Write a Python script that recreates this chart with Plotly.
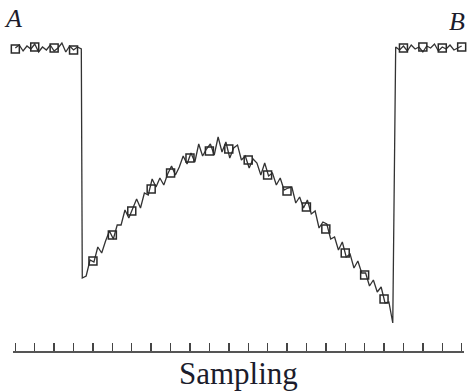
import plotly.graph_objects as go

# Sampling index grid (tick marks at every integer sample 0..23)
tick_vals = list(range(0, 24))

# Left plateau (point A), samples t = 0.0 .. 3.4 step 0.2
left_t0, left_dt = 0.0, 0.2
left_y = [303, 306, 300, 305, 302, 307, 299, 304, 301, 306, 300, 303, 308, 299, 305, 301, 304, 302]

# Curved (noisy) section, samples t = 3.45 .. 19.45 step 0.2
curve_t0, curve_dt = 3.45, 0.2
curve_y = [73, 75, 91, 89, 104, 98, 110, 120, 112, 126,
           126, 141, 133, 143, 152, 143, 158, 156, 172, 164,
           173, 166, 177, 185, 176, 184, 195, 187, 198, 189,
           207, 195, 202, 207, 196, 214, 199, 209, 193, 203,
           206, 191, 195, 183, 192, 188, 176, 188, 175, 178,
           166, 173, 161, 163, 164, 148, 154, 143, 151, 137,
           140, 123, 129, 127, 112, 114, 101, 109, 94, 97,
           83, 90, 78, 78, 65, 71, 59, 64, 48, 49, 28]

# Right plateau (point B), samples t = 19.6 .. 23.0 step 0.2
right_t0, right_dt = 19.6, 0.2
right_y = [304, 301, 305, 300, 306, 302, 304, 299, 305, 303, 307, 300, 304, 302, 306, 301, 303, 305]

# Square markers (one per sample tick)
marker_t = list(range(0, 24))
marker_y = [302, 304, 303, 301,
            90, 116, 140, 162, 178, 193, 200, 202, 191, 176, 160, 144,
            122, 98, 76, 52,
            303, 304, 303, 304]

x_line = ([left_t0 + i * left_dt for i in range(len(left_y))]
          + [curve_t0 + i * curve_dt for i in range(len(curve_y))]
          + [right_t0 + i * right_dt for i in range(len(right_y))])
y_line = left_y + curve_y + right_y

fig = go.Figure()
fig.add_trace(go.Scatter(
    x=x_line, y=y_line, mode="lines",
    line=dict(color="#333333", width=1.3),
    hoverinfo="skip", showlegend=False, cliponaxis=False,
))
fig.add_trace(go.Scatter(
    x=marker_t, y=marker_y, mode="markers",
    marker=dict(symbol="square-open", size=8, color="#2a2a2a",
                line=dict(width=1.5, color="#2a2a2a")),
    hoverinfo="skip", showlegend=False, cliponaxis=False,
))

PLOT_L, PLOT_R, AXIS_Y = 13, 464, 351
W, H = 467, 391
X_MIN, X_MAX = -0.12, 23.12

def px_to_paper_x(px):
    return (px - PLOT_L) / (PLOT_R - PLOT_L)

def px_to_paper_y(py):
    return (AXIS_Y - py) / AXIS_Y

serif = "Liberation Serif, Times New Roman, serif"
for txt, px, py, size in [("<i>A</i>", 13, 19, 26), ("<i>B</i>", 457, 21, 26),
                          ("Sampling", 238, 374, 31)]:
    fig.add_annotation(text=txt, x=px_to_paper_x(px), y=px_to_paper_y(py),
                       xref="paper", yref="paper", showarrow=False,
                       xanchor="center", yanchor="middle",
                       font=dict(family=serif, size=size, color="#1c1c2c"))

fig.update_layout(
    width=W, height=H,
    margin=dict(l=PLOT_L, r=W - PLOT_R, t=0, b=H - AXIS_Y),
    paper_bgcolor="white", plot_bgcolor="white",
    hovermode=False,
    xaxis=dict(range=[X_MIN, X_MAX], tickvals=tick_vals, showticklabels=False,
               ticks="inside", ticklen=8, tickwidth=1.4, tickcolor="#444",
               showline=True, linecolor="#555", linewidth=1.6,
               showgrid=False, zeroline=False, fixedrange=True),
    yaxis=dict(range=[0, AXIS_Y], visible=False, showgrid=False,
               zeroline=False, fixedrange=True),
)

fig.write_html("out.html",
               config={"displayModeBar": False, "staticPlot": True},
               post_script="document.body.style.margin='0';document.body.style.overflow='hidden';")
